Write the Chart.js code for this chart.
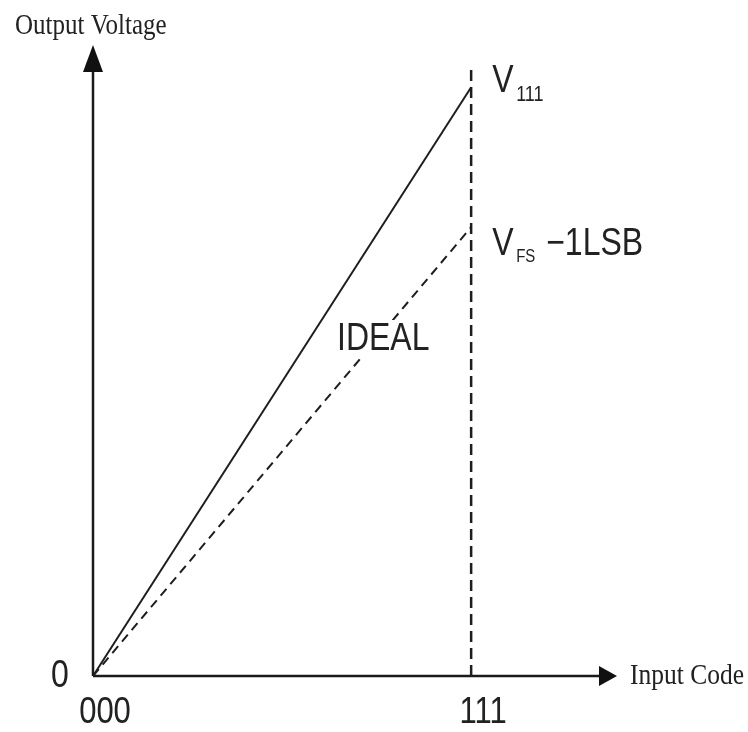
<!DOCTYPE html>
<html>
<head>
<meta charset="utf-8">
<script src="https://cdn.jsdelivr.net/npm/chart.js@4"></script>
<style>
html,body{margin:0;padding:0;background:#fff;}
#wrap{width:748px;height:732px;position:relative;}
</style>
</head>
<body>
<div id="wrap"><canvas id="c" width="748" height="732"></canvas></div>
<script>
// Input codes (x in LSB units) and their labels
const codes = [0, 7];
const codeLabels = ['000', '111'];
// Output voltages (in LSB units)
const actualOutput = [0, 9.18];   // real transfer line, ends at V111
const idealOutput = [0, 7];       // ideal line, ends at VFS - 1LSB
const markerCode = [7, 7];        // vertical dashed marker at code 111
const markerLevels = [0, 9.53];
const originLabel = '0';
const xAxisTitle = 'Input Code';
const yAxisTitle = 'Output Voltage';
const xMax = 9.7, yMax = 9.84;

const STRETCH = 1.2;
function stretchedText(ctx, txt, x, y, font, align, sy) {
  ctx.save();
  ctx.font = font;
  ctx.textAlign = align || 'left';
  ctx.textBaseline = 'middle';
  ctx.translate(x, y);
  ctx.scale(1, sy || STRETCH);
  ctx.fillText(txt, 0, 0);
  ctx.restore();
}

const diagramPlugin = {
  id: 'diagram',
  beforeDatasetsDraw(chart) {
    const {ctx, scales: {x, y}} = chart;
    const x0 = x.getPixelForValue(0), y0 = y.getPixelForValue(0);
    const xEnd = x.getPixelForValue(xMax), yEnd = y.getPixelForValue(yMax);
    ctx.save();
    ctx.strokeStyle = '#1a1a1a';
    ctx.fillStyle = '#111';
    ctx.lineWidth = 2.5;
    // y axis
    ctx.beginPath(); ctx.moveTo(x0, y0); ctx.lineTo(x0, yEnd + 26); ctx.stroke();
    ctx.beginPath(); ctx.moveTo(x0, yEnd); ctx.lineTo(x0 - 10, yEnd + 27); ctx.lineTo(x0 + 10, yEnd + 27); ctx.closePath(); ctx.fill();
    // x axis
    ctx.beginPath(); ctx.moveTo(x0, y0); ctx.lineTo(xEnd - 16, y0); ctx.stroke();
    ctx.beginPath(); ctx.moveTo(xEnd, y0); ctx.lineTo(xEnd - 18, y0 - 10); ctx.lineTo(xEnd - 18, y0 + 10); ctx.closePath(); ctx.fill();
    ctx.restore();
  },
  afterDatasetsDraw(chart) {
    const {ctx, scales: {x, y}} = chart;
    ctx.save();
    const x0 = x.getPixelForValue(0), y0 = y.getPixelForValue(0);
    // white backing under the IDEAL label (the dashed line is hidden behind it)
    ctx.fillStyle = '#fff';
    ctx.fillRect(334, 320, 100, 38);
    ctx.fillStyle = '#222';
    // axis titles (serif)
    stretchedText(ctx, yAxisTitle, 15, 26, '25px "Liberation Serif", "Times New Roman", serif', 'left', 1.17);
    stretchedText(ctx, xAxisTitle, x.getPixelForValue(xMax) + 13, y0, '25.5px "Liberation Serif", "Times New Roman", serif', 'left', 1.17);
    // origin and code tick labels
    const sans = '"Liberation Sans", Arial, sans-serif';
    stretchedText(ctx, originLabel, x0 - 33, y0, '32px ' + sans, 'center');
    codes.forEach((c, i) => {
      stretchedText(ctx, codeLabels[i], x.getPixelForValue(c) + 12, y0 + 37, '31px ' + sans, 'center');
    });
    // V111 label
    const xm = x.getPixelForValue(codes[1]);
    const yA = y.getPixelForValue(actualOutput[1]);
    const yI = y.getPixelForValue(idealOutput[1]);
    stretchedText(ctx, 'V', xm + 21, yA - 6, '32px ' + sans, 'left');
    stretchedText(ctx, '111', xm + 45, yA + 8, '18px ' + sans, 'left');
    // VFS - 1LSB label
    stretchedText(ctx, 'V', xm + 21, yI + 17, '32px ' + sans, 'left');
    stretchedText(ctx, 'FS', xm + 45, yI + 30, '15px ' + sans, 'left');
    stretchedText(ctx, '\u22121LSB', xm + 75, yI + 17, '32px ' + sans, 'left');
    // IDEAL label
    stretchedText(ctx, 'IDEAL', 337, 339, '32px ' + sans, 'left');
    ctx.restore();
  }
};

const toPts = (xs, ys) => xs.map((v, i) => ({x: v, y: ys[i]}));

new Chart(document.getElementById('c'), {
  type: 'line',
  data: {
    datasets: [
      {label: 'Actual', data: toPts(codes, actualOutput), borderColor: '#1e1e1e', borderWidth: 2, pointRadius: 0, fill: false},
      {label: 'Ideal', data: toPts(codes, idealOutput), borderColor: '#1e1e1e', borderWidth: 2, borderDash: [9, 6], pointRadius: 0, fill: false},
      {label: 'Code 111', data: toPts(markerCode, markerLevels), borderColor: '#1e1e1e', borderWidth: 2.5, borderDash: [11, 6], pointRadius: 0, fill: false}
    ]
  },
  options: {
    responsive: false,
    animation: false,
    events: [],
    layout: {padding: {left: 93, right: 131, top: 45, bottom: 56}},
    plugins: {legend: {display: false}, tooltip: {enabled: false}},
    scales: {
      x: {type: 'linear', min: 0, max: xMax, display: false},
      y: {type: 'linear', min: 0, max: yMax, display: false}
    }
  },
  plugins: [diagramPlugin]
});
</script>
</body>
</html>
